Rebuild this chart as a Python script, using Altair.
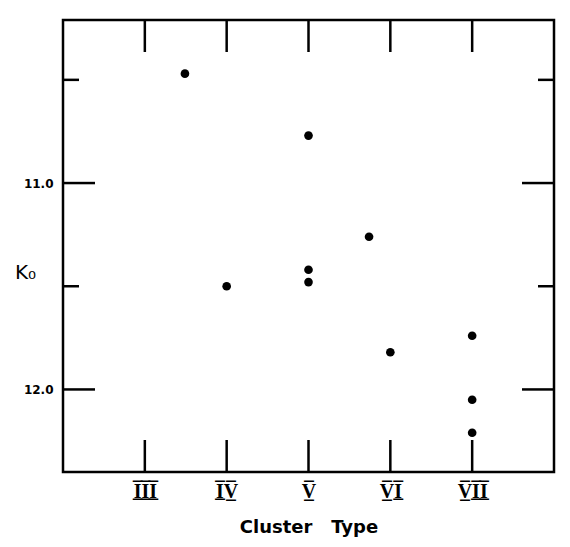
import altair as alt
import pandas as pd

# data
cluster_pos = [3.49, 4, 5, 5, 5, 5.74, 6, 7, 7, 7]
k0_values = [10.47, 11.50, 10.77, 11.42, 11.48, 11.26, 11.82, 11.74, 12.05, 12.21]
x_tick_values = [3, 4, 5, 6, 7]
x_tick_labels = ["III", "IV", "V", "VI", "VII"]
y_major = [11.0, 12.0]
y_minor = [10.5, 11.5]

W, H = 491, 452

pts = pd.DataFrame({"x": cluster_pos, "k": k0_values})
xt = pd.DataFrame({"x": x_tick_values})
ymaj = pd.DataFrame({"k": y_major})
ymin = pd.DataFrame({"k": y_minor})


def barred(s):
    # roman numeral with over- and under-bars, as typeset in the figure
    return "".join(ch + "\u0305\u0332" for ch in s)


label_expr = "{" + ",".join(f"'{v}':'{barred(l)}'" for v, l in zip(x_tick_values, x_tick_labels)) + "}[datum.value]"

xscale = alt.Scale(domain=[2, 8], nice=False, zero=False)
yscale = alt.Scale(domain=[10.21, 12.40], nice=False, zero=False, reverse=True)

X = alt.X("x:Q", scale=xscale, title="Cluster\u00a0\u00a0\u00a0Type",
          axis=alt.Axis(values=x_tick_values, labelExpr=label_expr, ticks=False, domain=False,
                        grid=False, labelFont="Liberation Serif", labelFontSize=20,
                        labelFontWeight="bold", labelColor="black", labelPadding=9,
                        titleFont="DejaVu Sans", titleFontSize=18, titleFontWeight="bold",
                        titleColor="black", titlePadding=17))
Y = alt.Y("k:Q", scale=yscale, title="K₀",
          axis=alt.Axis(values=y_major, format=".1f", ticks=False, domain=False, grid=False,
                        labelFont="DejaVu Sans", labelFontSize=12, labelFontWeight="bold",
                        labelColor="black", labelPadding=10,
                        titleAngle=0, titleX=-38, titleY=262, titleFont="DejaVu Sans",
                        titleFontSize=20, titleFontWeight="normal", titleColor="black"))

points = alt.Chart(pts).mark_circle(size=75, color="black", opacity=1).encode(x=X, y=Y)

sw = 2.5
left_major = alt.Chart(ymaj).mark_rule(color="black", strokeWidth=sw).encode(
    y=Y, x=alt.value(0), x2=alt.value(32))
right_major = alt.Chart(ymaj).mark_rule(color="black", strokeWidth=sw).encode(
    y=Y, x=alt.value(W - 32), x2=alt.value(W))
left_minor = alt.Chart(ymin).mark_rule(color="black", strokeWidth=sw).encode(
    y=Y, x=alt.value(0), x2=alt.value(16))
right_minor = alt.Chart(ymin).mark_rule(color="black", strokeWidth=sw).encode(
    y=Y, x=alt.value(W - 16), x2=alt.value(W))
top_ticks = alt.Chart(xt).mark_rule(color="black", strokeWidth=sw).encode(
    x=X, y=alt.value(0), y2=alt.value(32))
bottom_ticks = alt.Chart(xt).mark_rule(color="black", strokeWidth=sw).encode(
    x=X, y=alt.value(H - 32), y2=alt.value(H))

chart = alt.layer(points, left_major, right_major, left_minor, right_minor, top_ticks, bottom_ticks).properties(
    width=W, height=H,
    autosize=alt.AutoSizeParams(type="none"),
    padding={"left": 55, "top": 12, "right": 8, "bottom": 70},
    background="white",
).configure_view(stroke="black", strokeWidth=2.5)

chart.save("out.html", embed_options={"renderer": "svg", "actions": False})
